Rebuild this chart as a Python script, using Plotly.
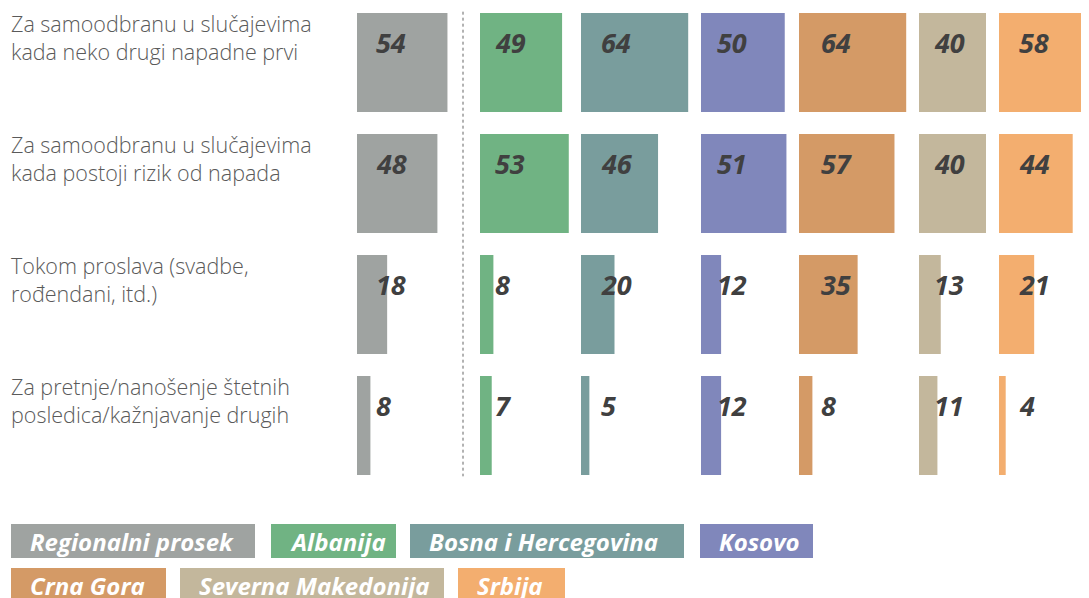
import plotly.graph_objects as go

# Data
questions = [
    "Za samoodbranu u slučajevima<br>kada neko drugi napadne prvi",
    "Za samoodbranu u slučajevima<br>kada postoji rizik od napada",
    "Tokom proslava (svadbe,<br>rođendani, itd.)",
    "Za pretnje/nanošenje štetnih<br>posledica/kažnjavanje drugih",
]
countries = ["Regionalni prosek", "Albanija", "Bosna i Hercegovina", "Kosovo",
             "Crna Gora", "Severna Makedonija", "Srbija"]
regional = [54, 48, 18, 8]
albanija = [49, 53, 8, 7]
bih = [64, 46, 20, 5]
kosovo = [50, 51, 12, 12]
crna_gora = [64, 57, 35, 8]
makedonija = [40, 40, 13, 11]
srbija = [58, 44, 21, 4]
values = [regional, albanija, bih, kosovo, crna_gora, makedonija, srbija]
colors = ["#9fa3a1", "#70b383", "#799d9d", "#8087bb", "#d49a66", "#c3b79c", "#f3ae6f"]

# Page has an 8px body margin, so the figure is drawn 8px in from the window edge
PAGE = 8
W, H = 1089 - PAGE, 598 - PAGE


def fx(px):
    return (px - PAGE) / W


def fy(px):
    return 1 - (px - PAGE) / H


col_left = [357, 480, 581, 701, 799, 919, 999]
label_off = [17, 13, 18, 14, 20, 13, 18]
px_per_unit = 1.675
col_w = 115
row_pitch = 121
row0_center = 62.5 - PAGE

fig = go.Figure()
annotations = []
layout_axes = {}

for i, (name, vals, col) in enumerate(zip(countries, values, colors)):
    ax = "x" if i == 0 else f"x{i + 1}"
    key = "xaxis" if i == 0 else f"xaxis{i + 1}"
    right_px = min(col_left[i] + col_w, 1089)
    span = (right_px - col_left[i]) / px_per_unit
    layout_axes[key] = dict(domain=[fx(col_left[i]), fx(right_px)], range=[0, span],
                            anchor="y", visible=False, fixedrange=True)
    fig.add_trace(go.Bar(
        x=vals, y=list(range(len(vals))), orientation="h",
        marker=dict(color=col, line=dict(width=0)), width=99 / row_pitch,
        xaxis=ax, yaxis="y", showlegend=False, name=name, hoverinfo="x",
    ))
    for r, v in enumerate(vals):
        annotations.append(dict(
            x=0, y=r, xref=ax, yref="y", text=str(v), showarrow=False,
            xanchor="left", yanchor="middle", xshift=label_off[i], yshift=20,
            font=dict(family="Open Sans", size=27, color="#404040",
                      weight="bold", style="italic"),
        ))

# Row labels
for r, q in enumerate(questions):
    annotations.append(dict(
        x=fx(9), y=r, xref="paper", yref="y", text=q, showarrow=False,
        xanchor="left", yanchor="top", yshift=56, align="left",
        font=dict(family="Open Sans", size=21.5, color="#5a5a5a", weight=300),
    ))

# Legend boxes
legend_boxes = [
    (11, 255, 524, 558), (271, 396, 524, 558), (410, 684, 524, 558), (700, 813, 524, 558),
    (11, 166, 568, 602), (180, 444, 568, 602), (458, 565, 568, 602),
]
shapes = []
for (x0, x1, y0, y1), name, col in zip(legend_boxes, countries, colors):
    shapes.append(dict(type="rect", xref="paper", yref="paper",
                       x0=fx(x0), x1=fx(x1), y0=fy(y1), y1=fy(y0),
                       fillcolor=col, line=dict(width=0), layer="above"))
    annotations.append(dict(
        x=fx(x0 + 17), y=fy((y0 + y1) / 2), xref="paper", yref="paper",
        text=name, showarrow=False, xanchor="left", yanchor="middle",
        font=dict(family="Open Sans", size=24, color="white",
                  weight="bold", style="italic"),
    ))

# Dotted separator
shapes.append(dict(type="line", xref="paper", yref="y",
                   x0=fx(463), x1=fx(463), y0=-0.42, y1=3.42,
                   line=dict(color="#666666", width=1, dash="dot")))

top_y = -row0_center / row_pitch
bottom_y = (H - row0_center) / row_pitch

fig.update_layout(
    width=W, height=H,
    margin=dict(l=0, r=0, t=0, b=0),
    paper_bgcolor="white", plot_bgcolor="rgba(0,0,0,0)",
    barmode="overlay",
    yaxis=dict(domain=[0, 1], range=[bottom_y, top_y], visible=False, fixedrange=True),
    annotations=annotations,
    shapes=shapes,
)
fig.update_layout(**layout_axes)

fig.write_html("out.html")
